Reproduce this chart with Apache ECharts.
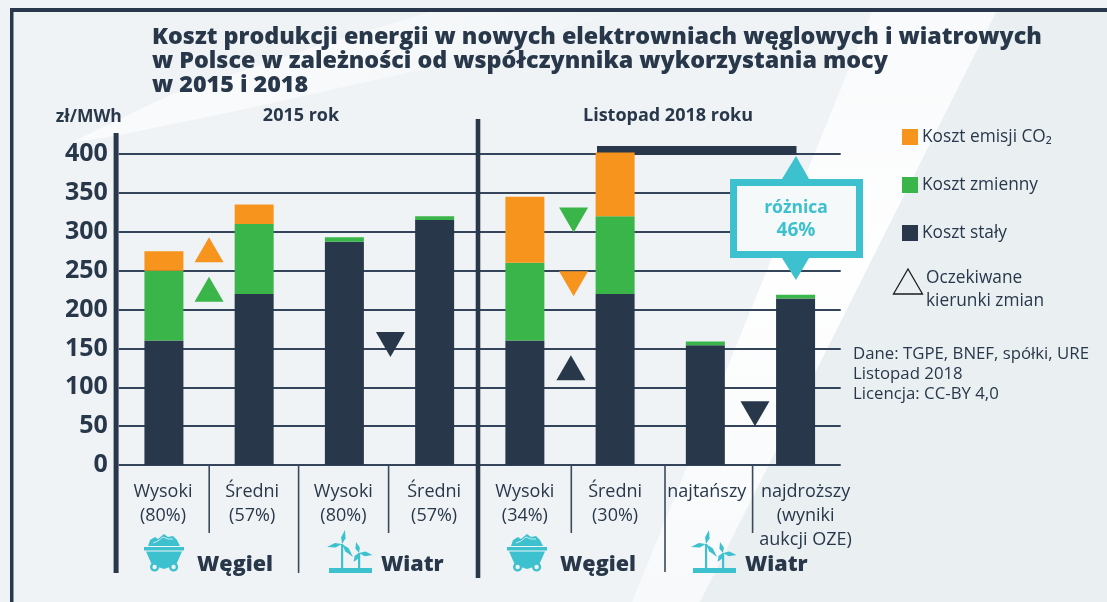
<!DOCTYPE html>
<html><head><meta charset="utf-8">
<style>html,body{margin:0;padding:0;background:#eff3f6}#c{width:1107px;height:602px}</style>
<script src="https://cdn.jsdelivr.net/npm/echarts@6/dist/echarts.min.js"></script>
</head><body><div id="c"></div>
<script>
const categories = ['Wysoki\n(80%)','Średni\n(57%)','Wysoki\n(80%)','Średni\n(57%)','Wysoki\n(34%)','Średni\n(30%)','najtańszy','najdroższy\n(wyniki\naukcji OZE)'];
const labelShift = [-2,-4,-2,-1,0,0,3,20];
const kosztStaly   = [160,220,287,315,160,220,154,214];
const kosztZmienny = [90,90,6,5,100,100,5,5];
const kosztCO2     = [25,25,0,0,85,82,0,0];
const yTicks = [0,50,100,150,200,250,300,350,400];
const upOrange = [[1.0,277]];
const upGreen  = [[1.0,226]];
const upDark   = [[5.01,125]];
const downGreen  = [[5.04,315]];
const downOrange = [[5.04,233]];
const downDark   = [[3.01,155],[7.05,66]];

const DARK='#28384a', GREEN='#3ab54a', ORANGE='#f7941e', TEAL='#3dc1ce';
const FONT='"Open Sans","Noto Sans",sans-serif';
const GRID={left:118.8,right:266.3,top:154,bottom:137};

function txt(x,y,t,size,weight,align,color){return {type:'text',x:x,y:y,z:20,style:{text:t,font:(weight||'normal')+' '+size+'px '+FONT,fill:color||DARK,align:align||'left',verticalAlign:'middle'}};}
function rect(x,y,w,h,fill,z){return {type:'rect',z:z==null?1:z,shape:{x:x,y:y,width:w,height:h},style:{fill:fill}};}
function poly(pts,fill,z){return {type:'polygon',z:z==null?20:z,shape:{points:pts},style:{fill:fill}};}
function blade(hx,hy,tx,ty){const dx=tx-hx,dy=ty-hy,l=Math.hypot(dx,dy),nx=-dy/l,ny=dx/l,w=2.3;
  return poly([[hx,hy],[hx+dx*.45+nx*w,hy+dy*.45+ny*w],[tx,ty],[hx+dx*.45-nx*w,hy+dy*.45-ny*w]],TEAL);}
function cart(o){return [
  poly([[o+148,546],[o+150,540],[o+155,537],[o+158,539],[o+164,534],[o+168,537],[o+173,536],[o+177,540],[o+180,546]],TEAL),
  {type:'polyline',z:21,shape:{points:[[o+153,543],[o+158,541],[o+163,537],[o+168,539],[o+173,539]]},style:{stroke:'#eff3f6',lineWidth:.8,fill:null}},
  rect(o+144,547,40,3.5,TEAL,20),
  poly([[o+146,551.5],[o+182,551.5],[o+176,565],[o+164,569],[o+152,565]],TEAL),
  {type:'circle',z:21,shape:{cx:o+154.6,cy:567,r:3.4},style:{fill:'#eff3f6',stroke:TEAL,lineWidth:2.4}},
  {type:'circle',z:21,shape:{cx:o+173.6,cy:567,r:3.4},style:{fill:'#eff3f6',stroke:TEAL,lineWidth:2.4}}
];}
function turbines(o){return [
  rect(o+329,568,43,5,TEAL,20),
  rect(o+341,544,2.2,25,TEAL,20),
  rect(o+358,553,2.2,16,TEAL,20),
  blade(o+342,544,o+345,530),blade(o+342,544,o+327,547),blade(o+342,544,o+353,557),
  blade(o+359,553,o+356,542),blade(o+359,553,o+372.5,555),blade(o+359,553,o+353.6,562)
];}

const graphics=[
  {type:'polygon',z:-5,shape:{points:[[872,12],[996,12],[700,602],[632,602]]},style:{fill:{type:'linear',x:0,y:0,x2:0,y2:1,colorStops:[{offset:0,color:'rgba(255,255,255,.6)'},{offset:.45,color:'rgba(255,255,255,.95)'},{offset:1,color:'rgba(255,255,255,.5)'}]}}},
  {type:'polygon',z:-5,shape:{points:[[70,143],[170,95],[320,45],[430,12],[620,12],[420,70],[250,108],[120,135]]},style:{fill:{type:'linear',x:0,y:0,x2:1,y2:0,colorStops:[{offset:0,color:'rgba(255,255,255,.65)'},{offset:.5,color:'rgba(255,255,255,.5)'},{offset:1,color:'rgba(255,255,255,.15)'}]}}},
  {type:'polygon',z:-6,shape:{points:[[996,12],[1107,12],[1107,602],[700,602]]},style:{fill:'rgba(226,231,235,.35)'}},
  rect(10,8,1097,4,DARK,2),
  rect(10,8,3.5,594,DARK,2),
  rect(113.6,133,5,440,DARK,3),
  rect(475.7,119,4.6,459,DARK,3),
  rect(208.4,465,1.6,68,'#3b4a5b',3),rect(297.8,465,1.6,108,'#3b4a5b',3),rect(387.8,465,1.6,68,'#3b4a5b',3),
  rect(570.5,465,1.6,68,'#3b4a5b',3),rect(664.2,465,1.6,107,'#3b4a5b',3),rect(751.8,465,1.6,68,'#3b4a5b',3),
  rect(597,146,199.5,9,DARK,1),
  poly([[796,156],[782,179],[809,179]],TEAL,10),
  poly([[796,280],[782,258],[809,258]],TEAL,10),
  {type:'rect',z:11,shape:{x:733.5,y:182.5,width:126,height:72},style:{fill:'#f6f9fa',stroke:TEAL,lineWidth:7}},
  txt(796,208,'różnica',17.5,'bold','center',TEAL),
  txt(796,231,'46%',19,'bold','center',TEAL),
  txt(301,116,'2015 rok',18,'bold','center'),
  txt(668,116,'Listopad 2018 roku',18,'bold','center'),
  {type:'polygon',z:20,shape:{points:[[908,269],[893.5,294],[922.5,294]]},style:{fill:'none',stroke:'#1d1d1d',lineWidth:1.3}},
  txt(926,278,'Oczekiwane',17.3),
  txt(926,301,'kierunki zmian',17.3),
  txt(853,354.5,'Dane: TGPE, BNEF, spółki, URE',16.8),
  txt(853,374.5,'Listopad 2018',16.8),
  txt(853,394.5,'Licencja: CC-BY 4,0',16.8),
  txt(197,565,'Węgiel',21.5,'800'),
  txt(381,565,'Wiatr',21.5,'800'),
  txt(560,565,'Węgiel',21.5,'800'),
  txt(745,565,'Wiatr',21.5,'800'),
  ...cart(0),...cart(363),...turbines(0),...turbines(364)
];

function stack(name,data,color){return {name:name,type:'bar',stack:'k',barWidth:39,clip:false,data:data,z:4,itemStyle:{color:color}};}
function tri(data,color,down){return {type:'scatter',xAxisIndex:1,yAxisIndex:0,data:data,symbol:'triangle',symbolSize:[29,25],symbolRotate:down?180:0,z:6,silent:true,itemStyle:{color:color,opacity:1}};}

const chart=echarts.init(document.getElementById('c'),null,{renderer:'canvas'});
chart.setOption({
  animation:false,
  backgroundColor:'#eff3f6',
  textStyle:{fontFamily:FONT},
  title:{text:'Koszt produkcji energii w nowych elektrowniach węglowych i wiatrowych\nw Polsce w zależności od współczynnika wykorzystania mocy\nw 2015 i 2018',
    left:147,top:20.5,textStyle:{color:DARK,fontSize:23.3,fontWeight:800,lineHeight:24,fontFamily:FONT}},
  legend:{data:['Koszt emisji CO₂','Koszt zmienny','Koszt stały'],orient:'vertical',left:897,top:123.5,itemWidth:16,itemHeight:16,itemGap:31,
    icon:'rect',textStyle:{color:DARK,fontSize:17.3,fontFamily:FONT,padding:[0,0,0,-1]},selectedMode:false},
  grid:GRID,
  xAxis:[
    {type:'category',data:categories.map((c,i)=>({value:c,textStyle:labelShift[i]>=0?{padding:[0,0,0,labelShift[i]]}:{padding:[0,-labelShift[i],0,0]}})),axisLine:{show:false},axisTick:{show:false},
     axisLabel:{interval:0,margin:15,color:DARK,fontSize:18,lineHeight:24,fontFamily:FONT,verticalAlign:'top'}},
    {type:'value',min:0,max:8,show:false}
  ],
  yAxis:{type:'value',min:0,max:400,interval:50,
    name:'zł/MWh',nameLocation:'end',nameGap:28,
    nameTextStyle:{color:DARK,fontWeight:'bold',fontSize:17.5,fontFamily:FONT,align:'right',padding:[0,-3,0,0]},
    axisLine:{show:false},axisTick:{show:false},
    axisLabel:{margin:11,color:DARK,fontWeight:'bold',fontSize:25,fontFamily:FONT,formatter:v=>yTicks.includes(v)?String(v):''},
    splitLine:{show:true,lineStyle:{color:'#34445a',width:2}}},
  graphic:graphics,
  series:[
    stack('Koszt stały',kosztStaly,DARK),
    stack('Koszt zmienny',kosztZmienny,GREEN),
    stack('Koszt emisji CO₂',kosztCO2,ORANGE),
    tri(upOrange,ORANGE,false),tri(upGreen,GREEN,false),tri(upDark,DARK,false),
    tri(downGreen,GREEN,true),tri(downOrange,ORANGE,true),tri(downDark,DARK,true)
  ]
});
</script></body></html>
